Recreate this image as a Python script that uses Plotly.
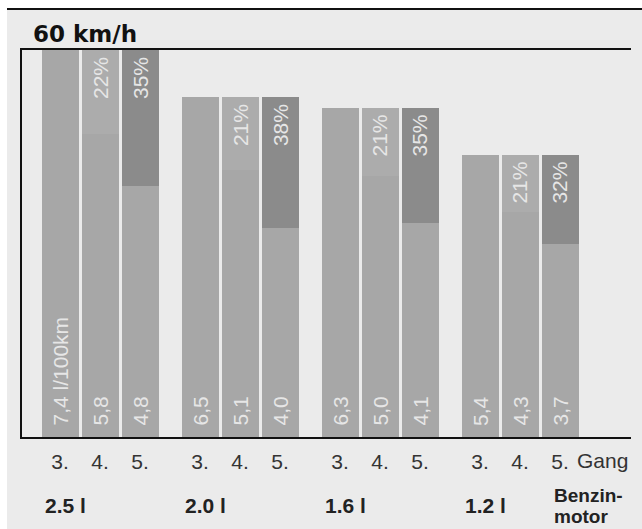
import plotly.graph_objects as go

# Fuel consumption at 60 km/h by engine size and gear (l/100km)
groups = ["2.5 l", "2.0 l", "1.6 l", "1.2 l"]
gears = ["3.", "4.", "5."]
gang3 = [7.4, 6.5, 6.3, 5.4]
gang4 = [5.8, 5.1, 5.0, 4.3]
gang5 = [4.8, 4.0, 4.1, 3.7]
save4 = [22, 21, 21, 21]   # saving vs. 3rd gear, %
save5 = [35, 38, 35, 32]
unit = "l/100km"
title = "60 km/h"
gear_word = "Gang"
petrol_note = ["Benzin-", "motor"]

# ---- layout geometry (pixels) ----
W, H = 642, 529
ML, MR, MT, MB = 22, 11, 50, 92
GROUP_STEP = 3.5
BAR_W = 0.925


def px_x(px):
    return (px - ML) / (W - ML - MR)


def px_y(py):
    return (H - MB - py) / (H - MT - MB)


FONT = "Liberation Sans, Arial, sans-serif"
C_BAR = "#a7a7a7"
C_SAVE4 = "#acacac"
C_SAVE5 = "#8b8b8b"
C_INK = "#e6e6e6"

xpos = [[g * GROUP_STEP + i for i in range(3)] for g in range(len(groups))]
values = [[gang3[g], gang4[g], gang5[g]] for g in range(len(groups))]

fig = go.Figure()

# saving segments: full 3rd-gear height behind the 4th / 5th gear bars
fig.add_trace(go.Bar(
    x=[xpos[g][1] for g in range(len(groups))],
    y=gang3, width=BAR_W, marker=dict(color=C_SAVE4, line=dict(width=0)),
    hoverinfo="skip", showlegend=False))
fig.add_trace(go.Bar(
    x=[xpos[g][2] for g in range(len(groups))],
    y=gang3, width=BAR_W, marker=dict(color=C_SAVE5, line=dict(width=0)),
    hoverinfo="skip", showlegend=False))

# consumption bars
fig.add_trace(go.Bar(
    x=[x for row in xpos for x in row],
    y=[v for row in values for v in row],
    width=BAR_W, marker=dict(color=C_BAR, line=dict(width=0)),
    showlegend=False))

annotations = []
for g in range(len(groups)):
    for i in range(3):
        v = values[g][i]
        txt = f"{v:.1f}".replace(".", ",")
        if g == 0 and i == 0:
            txt += " " + unit
        annotations.append(dict(
            x=xpos[g][i], y=0, xref="x", yref="y", text=txt, textangle=-90,
            showarrow=False, xanchor="center", yanchor="bottom", yshift=9,
            font=dict(family=FONT, size=21, color=C_INK)))
    for i, pct in ((1, save4[g]), (2, save5[g])):
        annotations.append(dict(
            x=xpos[g][i], y=gang3[g], xref="x", yref="y", text=f"{pct}%",
            textangle=-90, showarrow=False, xanchor="center", yanchor="top",
            yshift=-5, font=dict(family=FONT, size=21, color=C_INK)))
    # engine size below the gear labels
    annotations.append(dict(
        x=xpos[g][0] - BAR_W / 2, y=px_y(505), xref="x", yref="paper",
        text=f"<b>{groups[g]}</b>", showarrow=False, xanchor="left",
        yanchor="middle", xshift=1, font=dict(family=FONT, size=21, color="#222")))

annotations.append(dict(
    x=px_x(575), y=px_y(460), xref="paper", yref="paper", text=gear_word,
    showarrow=False, xanchor="left", yanchor="middle",
    font=dict(family=FONT, size=21, color="#333")))
for line, cy in zip(petrol_note, (495, 516)):
    annotations.append(dict(
        x=px_x(552), y=px_y(cy), xref="paper", yref="paper",
        text=f"<b>{line}</b>", showarrow=False, xanchor="left",
        yanchor="middle", font=dict(family=FONT, size=19, color="#222")))
annotations.append(dict(
    x=px_x(31), y=px_y(34), xref="paper", yref="paper", text=f"<b>{title}</b>",
    showarrow=False, xanchor="left", yanchor="middle",
    font=dict(family="DejaVu Sans, sans-serif", size=23, color="#111")))

shapes = [
    dict(type="rect", xref="paper", yref="paper", x0=px_x(7), x1=px_x(W + 2),
         y0=px_y(9), y1=px_y(H + 2), fillcolor="#ebebeb",
         line=dict(width=0), layer="below"),
    dict(type="line", xref="paper", yref="paper", x0=px_x(7), x1=px_x(W + 2),
         y0=px_y(9), y1=px_y(9), line=dict(color="#111", width=2)),
]

fig.update_layout(
    width=W, height=H,
    margin=dict(l=ML, r=MR, t=MT, b=MB, pad=0),
    paper_bgcolor="#ffffff", plot_bgcolor="rgba(0,0,0,0)",
    barmode="overlay", bargap=0,
    annotations=annotations, shapes=shapes,
    xaxis=dict(
        range=[-0.95, 14.275], showgrid=False, zeroline=False,
        showline=True, linecolor="#111", linewidth=2, mirror=True,
        tickvals=[x for row in xpos for x in row],
        ticktext=gears * len(groups), ticks="", ticklabelstandoff=5,
        tickfont=dict(family=FONT, size=21, color="#333"), fixedrange=True),
    yaxis=dict(
        range=[0, 7.4], showgrid=False, zeroline=False, showticklabels=False,
        showline=True, linecolor="#111", linewidth=2, ticks="",
        fixedrange=True),
    showlegend=False,
)

fig.write_html("out.html")
